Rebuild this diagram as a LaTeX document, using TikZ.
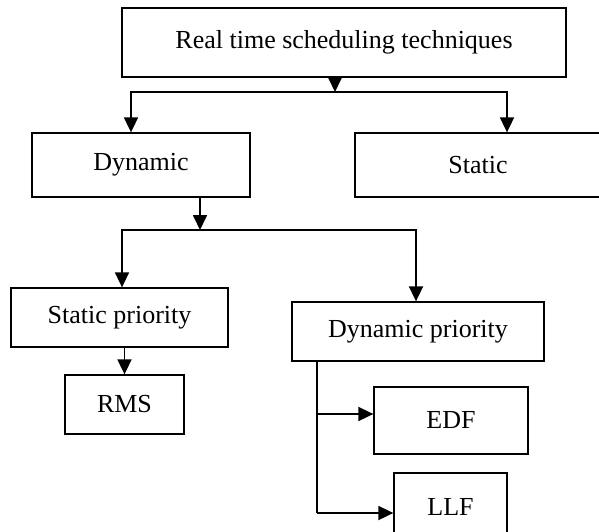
\documentclass[tikz,border=0pt]{standalone}
\usepackage{fontspec}
\setmainfont{Liberation Serif}
\usetikzlibrary{arrows.meta}
\tikzset{
    box/.style={draw, rectangle, line width=1.3pt, inner sep=0pt,
        font=\fontsize{26}{30}\selectfont},
    conn/.style={line width=1.8pt, -{Triangle[length=15pt,width=14pt]}},
    wire/.style={line width=1.5pt}
}
\begin{document}
\begin{tikzpicture}[x=1pt,y=1pt]
    \useasboundingbox (0,0) rectangle (599,531);
    % boxes
    \node[box, minimum width=444pt, minimum height=69pt] (top) at (344,488.5) {Real time scheduling techniques};
    \node[box, minimum width=218pt, minimum height=64pt] (dyn) at (141,366) {Dynamic};
    \node[box, minimum width=246pt, minimum height=64pt] (stat) at (478,366) {Static};
    \node[box, minimum width=217pt, minimum height=59pt] (sprio) at (119.5,213.5) {Static priority};
    \node[box, minimum width=252pt, minimum height=59pt] (dprio) at (418,199.5) {Dynamic priority};
    \node[box, minimum width=119pt, minimum height=59pt] (rms) at (124.5,126.5) {RMS};
    \node[box, minimum width=154pt, minimum height=67pt] (edf) at (451,110.5) {EDF};
    \node[box, minimum width=113pt, minimum height=67pt] (llf) at (450.5,24.5) {LLF};
    % branch points
    \coordinate (t1) at (335,439);
    \coordinate (t1a) at (131,439);
    \coordinate (t1b) at (507,439);
    \coordinate (d1) at (200,301);
    \coordinate (d1a) at (122,301);
    \coordinate (d1b) at (416,301);
    \coordinate (p1) at (317,117);
    \coordinate (p2) at (317,18);
    % connectors
    \draw[conn] (top.south -| t1) -- (t1);
    \draw[conn] (t1) -- (t1a) -- (t1a |- dyn.north);
    \draw[conn] (t1) -- (t1b) -- (t1b |- stat.north);
    \draw[conn] (dyn.south -| d1) -- (d1);
    \draw[conn] (d1) -- (d1a) -- (d1a |- sprio.north);
    \draw[conn] (d1) -- (d1b) -- (d1b |- dprio.north);
    \draw[conn] (sprio.south -| rms.north) -- (rms.north);
    \draw[wire] (dprio.south -| p2) -- (p2);
    \draw[conn] (p1) -- (p1 -| edf.west);
    \draw[conn] (p2) -- (p2 -| llf.west);
\end{tikzpicture}
\end{document}
